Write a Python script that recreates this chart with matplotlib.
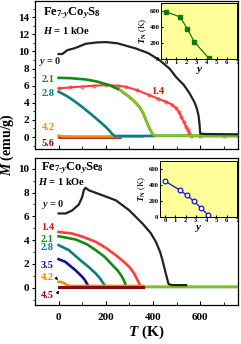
import matplotlib
matplotlib.use("Agg")
import matplotlib.pyplot as plt
from matplotlib.ticker import MultipleLocator

plt.rcParams['font.family'] = ['Liberation Serif', 'DejaVu Serif']
plt.rcParams['font.weight'] = 'bold'
plt.rcParams['mathtext.fontset'] = 'custom'
plt.rcParams['mathtext.rm'] = 'Liberation Serif:bold'
plt.rcParams['mathtext.it'] = 'Liberation Serif:italic:bold'
plt.rcParams['mathtext.bf'] = 'Liberation Serif:bold'

# ---------------- data: Fe7-yCoyS8 (top) ----------------
s_y0_T = [0, 15, 25, 37, 70, 115, 160, 200, 250, 327, 380, 427, 470, 498, 530, 555, 575, 585, 593, 597, 600, 620, 700, 760]
s_y0_M = [9.7, 9.7, 9.9, 10.15, 10.4, 10.9, 11.05, 11.1, 10.95, 10.35, 9.8, 9.0, 8.0, 7.0, 6.1, 5.1, 4.1, 3.4, 2.5, 1.5, 0.4, 0.35, 0.33, 0.32]
s_14_T = [0, 50, 100, 150, 200, 250, 285, 330, 384, 420, 455, 480, 498, 510, 519, 530, 540, 548, 554, 561, 600, 700, 760]
s_14_M = [5.68, 5.8, 5.9, 6.0, 6.07, 6.0, 5.87, 5.5, 4.9, 4.5, 4.12, 3.8, 3.35, 2.9, 2.37, 1.8, 1.2, 0.8, 0.43, 0.12, 0.08, 0.08, 0.08]
s_21_T = [0, 50, 115, 160, 214, 260, 299, 320, 342, 358, 370, 382, 392, 400, 406, 500, 600, 700, 760]
s_21_M = [6.92, 6.88, 6.73, 6.5, 6.07, 5.5, 4.7, 4.2, 3.54, 2.8, 1.98, 1.2, 0.62, 0.3, 0.15, 0.15, 0.15, 0.15, 0.15]
s_28_T = [0, 14, 40, 71, 105, 142, 170, 199, 215, 227, 238, 300, 350, 406]
s_28_M = [5.29, 5.1, 4.7, 4.12, 3.4, 2.57, 1.9, 1.2, 0.75, 0.35, 0.12, 0.12, 0.12, 0.12]
s_42_T = [0, 10, 50, 150, 250, 356]
s_42_M = [0.15, 0.08, 0.06, 0.06, 0.06, 0.06]
s_56_T = [0, 100, 200, 260]
s_56_M = [0.02, 0.02, 0.02, 0.02]

# ---------------- data: Fe7-yCoySe8 (bottom) ----------------
e_y0_T = [0, 30, 58, 86, 100, 107, 114, 128, 185, 242, 299, 355, 390, 412, 430, 440, 454, 462, 466, 480, 510, 540]
e_y0_M = [6.24, 6.24, 6.5, 7.0, 7.63, 8.2, 8.4, 8.19, 7.77, 7.35, 6.51, 5.4, 4.6, 3.86, 3.0, 2.32, 1.2, 0.6, 0.31, 0.22, 0.22, 0.22]
e_14_T = [0, 58, 100, 157, 200, 242, 275, 299, 315, 327, 335, 341, 348, 355]
e_14_M = [4.69, 4.55, 4.3, 3.86, 3.35, 2.74, 2.2, 1.76, 1.35, 0.92, 0.6, 0.37, 0.1, 0.1]
e_21_T = [0, 73, 120, 157, 195, 228, 250, 264, 272, 279, 286, 350, 450, 550, 650, 760]
e_21_M = [4.33, 4.05, 3.65, 3.16, 2.6, 1.9, 1.45, 1.06, 0.8, 0.5, 0.1, 0.07, 0.07, 0.07, 0.07, 0.07]
e_28_T = [0, 43, 100, 130, 157, 175, 185, 192, 199, 280, 355]
e_28_M = [3.58, 3.16, 2.18, 1.7, 1.2, 0.8, 0.5, 0.3, 0.05, 0.05, 0.05]
e_35_T = [0, 28, 71, 100, 112, 121, 128, 200, 355]
e_35_M = [2.4, 2.18, 1.48, 0.92, 0.62, 0.31, 0.05, 0.05, 0.05]
e_42_T = [0, 10, 21, 35, 50, 150, 250, 356]
e_42_M = [0.5, 0.48, 0.42, 0.22, 0.15, 0.15, 0.15, 0.15]
e_45_T = [0, 100, 200, 300, 356]
e_45_M = [0.07, 0.07, 0.07, 0.07, 0.07]

# ---------------- inset data ----------------
ins_S_y = [0, 1.4, 2.1, 2.8, 4.2]
ins_S_TN = [590, 525, 375, 212, 12]
ins_Se_y = [0, 1.4, 2.1, 2.8, 3.5, 4.2]
ins_Se_TN = [447, 340, 273, 197, 113, 22]

C_BLACK = '#222222'
C_RED = '#ff3b3b'
C_GREEN = '#138a13'
C_LGREEN = '#8cc41a'
C_TEAL = '#0a7f80'
C_ORANGE = '#ff8a00'
C_DRED = '#8b0a0a'
C_BLUE = '#101090'

W, H = 241, 344
fig = plt.figure(figsize=(W / 100, H / 100), dpi=100)

def fx(x):
    return x / W

def fy(y):
    return 1 - y / H

ax1 = fig.add_axes([fx(35), fy(149), fx(238) - fx(35), fy(1) - fy(149)])
ax2 = fig.add_axes([fx(35), fy(305), fx(238) - fx(35), fy(158) - fy(305)])

lw = 1.9
ax1.plot(s_56_T, s_56_M, color=C_DRED, lw=lw, zorder=2)
ax1.plot(s_42_T, s_42_M, color=C_ORANGE, lw=lw, zorder=2)
ax1.plot(s_28_T, s_28_M, color=C_TEAL, lw=lw, zorder=3)
ax1.plot(s_14_T, s_14_M, color=C_RED, lw=1.5, zorder=3, marker='o', ms=2.2,
         mfc='none', mec=C_RED, mew=0.6, markevery=1)
ax1.plot(s_21_T, s_21_M, color=C_GREEN, lw=lw, zorder=4)
ax1.plot(s_21_T[5:], s_21_M[5:], color=C_LGREEN, lw=1.6, zorder=5)
ax1.plot(s_y0_T, s_y0_M, color=C_BLACK, lw=1.6, zorder=6)

ax2.plot(e_y0_T, e_y0_M, color=C_BLACK, lw=1.6, zorder=6)
ax2.plot(e_21_T, e_21_M, color=C_GREEN, lw=lw, zorder=2)
ax2.plot(e_21_T[10:], e_21_M[10:], color=C_LGREEN, lw=1.4, zorder=2)
ax2.plot(e_14_T, e_14_M, color=C_RED, lw=lw, zorder=3)
ax2.plot(e_28_T, e_28_M, color=C_TEAL, lw=lw, zorder=3)
ax2.plot(e_35_T, e_35_M, color=C_BLUE, lw=lw, zorder=3)
ax2.plot(e_42_T, e_42_M, color=C_ORANGE, lw=lw, zorder=4)
ax2.plot(e_45_T, e_45_M, color=C_DRED, lw=2.2, zorder=5)

for ax in (ax1, ax2):
    ax.set_xlim(-100, 760)
    ax.xaxis.set_major_locator(MultipleLocator(200))
    ax.xaxis.set_minor_locator(MultipleLocator(100))
    ax.yaxis.set_major_locator(MultipleLocator(2))
    ax.yaxis.set_minor_locator(MultipleLocator(1))
    ax.tick_params(axis='x', which='both', direction='in', labelsize=8, pad=6)
    ax.tick_params(axis='x', which='major', length=3)
    ax.tick_params(axis='x', which='minor', length=2)
    ax.tick_params(axis='y', which='major', direction='out', length=2.5, labelsize=8, pad=1.5)
    ax.tick_params(axis='y', which='minor', direction='out', length=1.5)
    for sp in ax.spines.values():
        sp.set_linewidth(0.9)

ax1.set_ylim(-1.4, 15.9)
ax1.tick_params(axis='x', labelbottom=False)
ax2.set_ylim(-1.45, 10.9)

# panel texts
fig.text(fx(43), fy(13), r'Fe$_{\mathbf{7}\text{-}\mathit{y}}$Co$_{\mathit{y}}$S$_{\mathbf{8}}$', fontsize=9, va='center', ha='left')
fig.text(fx(43), fy(31), r'$\mathit{H}$ = 1 kOe', fontsize=7.5, va='center', ha='left')
fig.text(fx(38), fy(62), r'$\mathit{y}$ = 0', fontsize=7.5, va='center', ha='left', color=C_BLACK)
fig.text(fx(42), fy(79), '2.1', fontsize=7.5, va='center', ha='left', color=C_GREEN)
fig.text(fx(42), fy(94), '2.8', fontsize=7.5, va='center', ha='left', color=C_TEAL)
fig.text(fx(151), fy(92), '1.4', fontsize=7.5, va='center', ha='left', color='#e01010')
fig.text(fx(42), fy(127), '4.2', fontsize=7.5, va='center', ha='left', color=C_ORANGE)
fig.text(fx(42), fy(143), '5.6', fontsize=7.5, va='center', ha='left', color=C_DRED)

fig.text(fx(41), fy(168), r'Fe$_{\mathbf{7}\text{-}\mathit{y}}$Co$_{\mathit{y}}$Se$_{\mathbf{8}}$', fontsize=9, va='center', ha='left')
fig.text(fx(38), fy(181), r'$\mathit{H}$ = 1 kOe', fontsize=7.5, va='center', ha='left')
fig.text(fx(41), fy(205), r'$\mathit{y}$ = 0', fontsize=7.5, va='center', ha='left', color=C_BLACK)
fig.text(fx(41), fy(228), '1.4', fontsize=7.5, va='center', ha='left', color='#e01010')
fig.text(fx(41), fy(239), '2.1', fontsize=7.5, va='center', ha='left', color=C_GREEN)
fig.text(fx(41), fy(248), '2.8', fontsize=7.5, va='center', ha='left', color=C_TEAL)
fig.text(fx(41), fy(265), '3.5', fontsize=7.5, va='center', ha='left', color=C_BLUE)
fig.text(fx(41), fy(278), '4.2', fontsize=7.5, va='center', ha='left', color=C_ORANGE)
fig.text(fx(41), fy(296), '4.5', fontsize=7.5, va='center', ha='left', color=C_DRED)

ax2.annotate('', xy=(fx(60), fy(282)), xytext=(fx(54), fy(276)), xycoords='figure fraction',
             textcoords='figure fraction',
             arrowprops=dict(arrowstyle='-|>', color='black', lw=0.6, mutation_scale=4))
ax2.annotate('', xy=(fx(60), fy(288)), xytext=(fx(56), fy(296)), xycoords='figure fraction',
             textcoords='figure fraction',
             arrowprops=dict(arrowstyle='-|>', color='black', lw=0.6, mutation_scale=4))

fig.text(fx(7.5), fy(145), r'$\mathit{M}$ (emu/g)', rotation=90, fontsize=10, va='center', ha='center')
fig.text(fx(146), fy(332), r'$\mathit{T}$ (K)', fontsize=11, va='center', ha='center')

# insets
in1 = fig.add_axes([fx(161), fy(59), fx(237) - fx(161), fy(3) - fy(59)])
in2 = fig.add_axes([fx(160), fy(217), fx(237) - fx(160), fy(161) - fy(217)])
in1.plot(ins_S_y, ins_S_TN, color='#107a10', lw=0.9, marker='s', ms=3.2, mfc='#107a10', mec='#107a10')
in2.plot(ins_Se_y, ins_Se_TN, color='#1010e0', lw=0.9, marker='o', ms=3.4, mfc='white', mec='#1010e0', mew=0.9)
for ia in (in1, in2):
    ia.set_facecolor('#ffff99')
    ia.set_xlim(-0.5, 7)
    ia.set_ylim(0, 700)
    ia.xaxis.set_major_locator(MultipleLocator(1))
    ia.yaxis.set_major_locator(MultipleLocator(200))
    ia.tick_params(labelsize=4.8, length=1.5, pad=1, direction='in')
    ia.set_ylabel(r'$\mathit{T}_{\mathbf{N}}$ (K)', fontsize=6.5, labelpad=0.5)
    ia.set_xlabel(r'$\mathit{y}$', fontsize=8, labelpad=-0.5)
    for sp in ia.spines.values():
        sp.set_linewidth(0.7)

fig.savefig('out.png', dpi=100)
